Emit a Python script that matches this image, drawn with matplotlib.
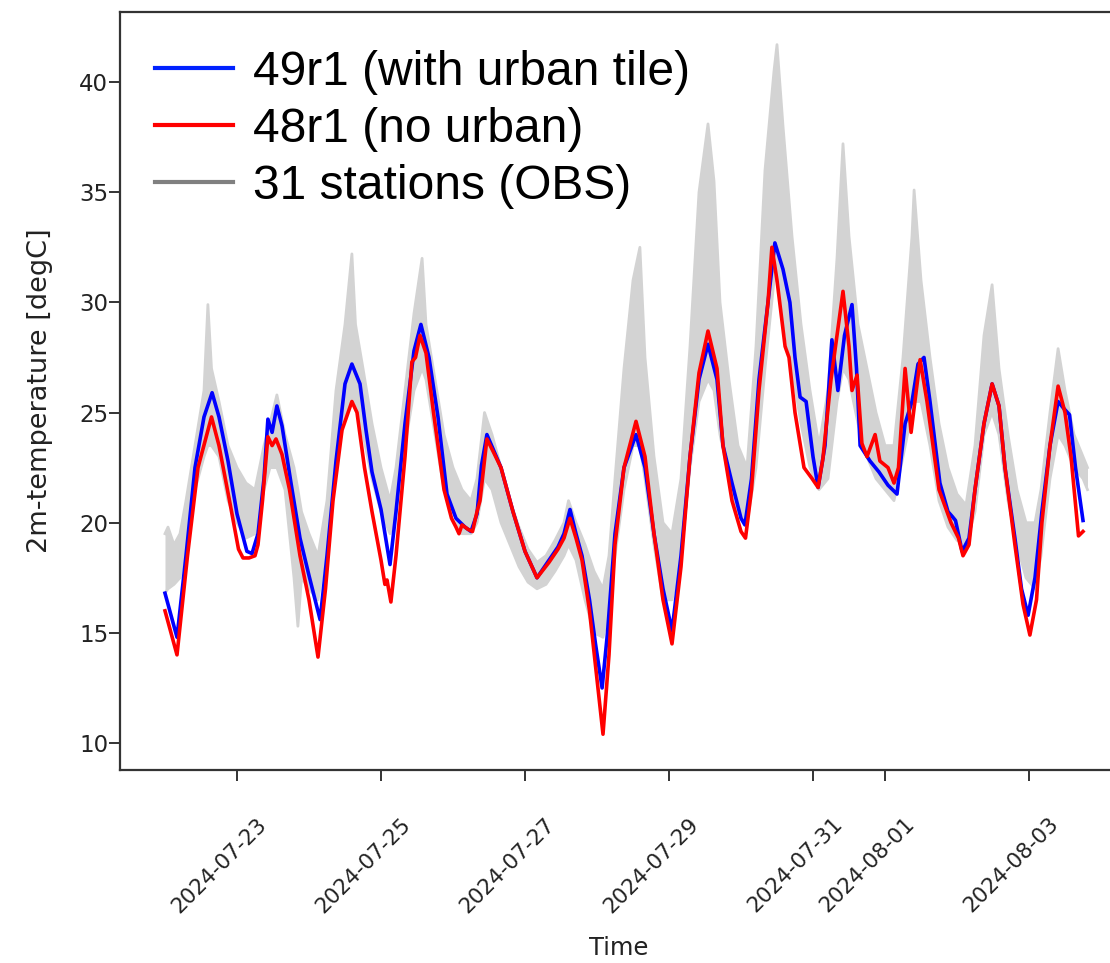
import matplotlib
matplotlib.use("Agg")
import matplotlib.pyplot as plt
import matplotlib.dates as mdates
import matplotlib.transforms as mtransforms
from matplotlib.lines import Line2D
import numpy as np
import pandas as pd

START = pd.Timestamp("2024-07-22 00:00")

# 49r1 (with urban tile): hours since START, 2m temperature
urban_hours = [0, 4, 7, 10, 13, 15.7, 18, 21, 24, 27.3, 29, 31, 33, 34.3, 35.7, 37.3, 39,
               42, 45, 48, 51.7, 54, 57, 60, 62.3, 65, 67, 69, 72, 75, 77, 80, 83, 85.3,
               88, 91, 94, 97, 100, 102, 104, 105.5, 107.3, 109.5, 112, 116, 120, 124,
               128, 131, 133, 135, 137, 139, 141.5, 143.5, 145.7, 147.5, 150, 153, 157,
               160, 163, 166, 169, 172, 175, 178, 181, 184, 186, 189, 192, 193.3, 195.5,
               198, 201, 203.3, 206, 208.3, 210, 211.7, 213.7, 216, 217.7, 220, 222.3,
               224.3, 226.5, 229, 230.5, 231.7, 235, 238, 241, 244, 246.7, 249, 251,
               253, 255, 258.3, 261, 262.3, 263.5, 265.7, 268, 270, 273, 275.7, 278,
               280, 283.3, 285.5, 287.7, 290, 292.3, 295, 297.7, 299.5, 301.5, 303.5, 306]
urban_temp = [16.8, 14.8, 18.5, 22.5, 24.8, 25.9, 24.8, 22.8, 20.4, 18.7, 18.6, 19.5, 22.0,
              24.7, 24.1, 25.3, 24.4, 21.8, 19.3, 17.6, 15.6, 18.5, 22.8, 26.3, 27.2, 26.3,
              24.2, 22.3, 20.6, 18.1, 20.5, 24.5, 27.8, 29.0, 27.5, 24.8, 21.3, 20.2, 19.8,
              19.6, 20.4, 22.6, 24.0, 23.3, 22.5, 20.5, 18.7, 17.5, 18.3, 18.9, 19.5, 20.6,
              19.5, 18.5, 16.5, 14.5, 12.5, 15.0, 19.5, 22.5, 24.0, 22.5, 19.5, 17.0, 15.1,
              18.5, 23.0, 26.5, 28.1, 26.5, 23.5, 21.8, 20.2, 19.9, 22.0, 26.5, 30.0, 32.7,
              31.5, 30.0, 27.5, 25.7, 25.5, 23.0, 21.6, 23.5, 28.3, 26.0, 28.5, 29.9, 27.0,
              23.5, 22.8, 22.3, 21.7, 21.3, 24.5, 25.5, 27.2, 27.5, 25.5, 21.8, 20.5, 20.3,
              20.1, 18.7, 19.3, 21.5, 24.5, 26.3, 25.3, 22.5, 19.3, 17.0, 15.8, 17.5, 20.5,
              23.5, 25.5, 25.2, 24.9, 22.5, 20.1]

# 48r1 (no urban)
nourban_hours = [0, 4, 7.5, 11, 15.5, 18, 21.5, 24.5, 26, 28, 30, 31, 32.5, 34.3, 35.7, 37,
                 39, 41.5, 45, 48, 51, 53.5, 56, 59, 62.3, 64, 66.5, 69, 72, 73.3, 74,
                 75.3, 77, 80, 82.3, 83.5, 85, 87, 89.5, 93, 95.5, 97, 98, 99, 101, 102.5,
                 104, 105, 107.3, 109.5, 112, 116, 120, 124, 128, 131, 133, 135, 137, 139,
                 141.5, 143.5, 146, 148, 150, 153, 157, 160, 163, 166, 169, 172, 175, 178,
                 181, 184, 186, 189, 192, 193.5, 195.5, 198, 201, 202.3, 204, 206.7, 208,
                 210, 213, 215.7, 217.7, 219.3, 222, 226, 228, 229, 230.7, 232.3, 234,
                 236.7, 238.3, 241, 243, 244.5, 246.7, 248.7, 251.7, 254, 258, 262, 264.5,
                 266, 268, 270, 273, 275.7, 278, 280, 283.3, 286, 288.3, 290.5, 292.3, 295,
                 297.7, 300, 302, 304.5, 306]
nourban_temp = [16.0, 14.0, 18.5, 22.5, 24.8, 23.5, 21.0, 18.8, 18.4, 18.4, 18.5, 19.0,
                21.0, 23.9, 23.5, 23.8, 23.1, 21.5, 18.5, 16.5, 13.9, 17.0, 21.0, 24.2, 25.5,
                25.0, 22.5, 20.5, 18.3, 17.2, 17.4, 16.4, 18.5, 23.0, 27.3, 27.5, 28.5, 27.7,
                25.0, 21.5, 20.2, 19.8, 19.5, 19.9, 19.7, 19.6, 20.5, 21.0, 23.8, 23.2, 22.5,
                20.5, 18.7, 17.5, 18.2, 18.8, 19.3, 20.2, 19.3, 18.3, 16.0, 13.5, 10.4, 14.0,
                19.0, 22.5, 24.6, 23.0, 19.5, 16.5, 14.5, 18.0, 23.0, 26.8, 28.7, 27.0, 23.5,
                21.0, 19.6, 19.3, 21.5, 26.0, 30.0, 32.5, 31.0, 28.0, 27.5, 25.0, 22.5, 22.0,
                21.6, 22.9, 26.5, 30.5, 28.0, 26.0, 26.7, 23.6, 23.0, 24.0, 22.8, 22.5, 21.8,
                22.5, 27.0, 24.1, 27.4, 25.5, 21.5, 20.0, 19.3, 18.5, 19.0, 21.5, 24.5, 26.3,
                25.3, 22.5, 19.0, 16.3, 14.9, 16.5, 20.0, 23.5, 26.2, 25.0, 23.0, 19.4, 19.6]

# 31 stations (OBS): envelope of the station curves
obs_hours = [0, 1, 3, 5, 7, 10, 13, 14.3, 15.5, 18, 21, 24, 27, 30, 33, 35, 37.3, 40, 43,
             44.3, 45.5, 48, 51, 54, 57, 60, 62.3, 63.5, 66, 69, 72, 75, 77, 80, 83, 85.7,
             87, 90, 93, 96, 99, 102, 104, 106.5, 109, 112, 115, 118, 121, 124, 127, 130,
             133, 134.5, 137, 140, 143, 146, 148, 150, 153, 156, 158.3, 160, 163, 166,
             169, 172, 175, 178, 181, 183, 185, 188, 191, 194, 197, 200, 203, 204, 206,
             209, 212, 215, 218, 221, 224, 226, 228, 231, 234, 237, 240, 243, 246, 249,
             249.7, 252, 255, 258, 261, 264, 267, 270, 273, 275.7, 278, 281, 284, 287,
             290, 292, 295, 297.7, 300, 303, 306, 307.5]
obs_low = [16.8, 17.0, 17.2, 17.5, 19.0, 21.5, 23.0, 23.5, 23.5, 23.0, 21.0, 20.0, 19.3,
           19.5, 21.5, 22.5, 22.5, 21.5, 17.5, 15.3, 17.5, 17.0, 16.5, 19.0, 22.5, 25.0,
           25.5, 25.5, 24.0, 22.0, 20.5, 19.5, 20.5, 23.5, 26.0, 27.0, 26.5, 24.0, 21.5,
           20.5, 19.5, 19.5, 20.0, 22.0, 21.5, 20.0, 19.0, 18.0, 17.3, 17.0, 17.2, 17.8,
           18.5, 19.0, 18.3, 16.5, 15.0, 14.8, 16.0, 18.5, 21.5, 23.5, 23.5, 22.0, 19.0,
           16.5, 16.5, 18.5, 22.5, 25.5, 26.5, 26.0, 24.0, 22.0, 20.5, 20.0, 22.5, 27.0,
           31.0, 31.0, 29.5, 27.0, 24.5, 22.5, 21.5, 22.0, 25.5, 27.0, 26.5, 24.5, 23.0,
           22.0, 21.5, 21.0, 23.0, 25.0, 25.5, 25.5, 23.5, 21.0, 19.8, 19.2, 19.0, 20.5,
           24.0, 25.0, 24.0, 21.0, 19.0, 17.5, 17.0, 18.5, 22.0, 24.0, 23.5, 22.5, 22.0,
           21.5]
obs_high = [19.5, 19.8, 19.0, 19.5, 21.0, 23.5, 26.0, 29.9, 27.0, 25.5, 23.5, 22.5, 21.8,
            21.5, 23.5, 24.5, 25.8, 24.0, 22.5, 21.5, 20.5, 19.5, 18.5, 21.0, 26.0, 29.0,
            32.2, 29.0, 27.0, 24.5, 22.5, 21.0, 22.5, 26.0, 29.5, 32.0, 29.0, 26.5, 24.0,
            22.5, 21.5, 21.0, 22.0, 25.0, 24.0, 22.5, 21.0, 19.8, 18.8, 18.2, 18.5, 19.2,
            20.0, 21.0, 20.0, 19.0, 17.8, 17.0, 18.5, 22.0, 27.0, 31.0, 32.5, 27.5, 23.0,
            20.0, 19.5, 22.0, 28.0, 35.0, 38.1, 35.5, 30.0, 26.5, 23.5, 22.5, 28.0, 36.0,
            40.5, 41.7, 38.0, 33.0, 29.0, 26.0, 23.5, 26.0, 32.0, 37.2, 33.0, 29.0, 27.0,
            25.0, 23.5, 23.5, 27.5, 33.0, 35.1, 31.0, 27.5, 24.5, 22.5, 21.3, 20.8, 23.5,
            28.5, 30.8, 27.0, 24.0, 21.5, 20.0, 20.0, 21.5, 25.0, 27.9, 26.0, 24.0, 23.0,
            22.5]

x_tick_dates = ["2024-07-23", "2024-07-25", "2024-07-27", "2024-07-29",
                "2024-07-31", "2024-08-01", "2024-08-03"]
y_ticks = [10, 15, 20, 25, 30, 35, 40]
labels = ["49r1 (with urban tile)", "48r1 (no urban)", "31 stations (OBS)"]


def to_time(hours):
    return START + pd.to_timedelta(np.asarray(hours, dtype=float), unit="h")


fig = plt.figure(figsize=(11.10, 9.63), dpi=100)
ax = fig.add_axes([120 / 1110, 193 / 963, 1014 / 1110, 758 / 963])

obs_t = to_time(obs_hours)
ax.fill_between(obs_t, obs_low, obs_high, color="#d3d3d3", lw=0)
ax.plot(obs_t, obs_low, color="#d3d3d3", lw=2)
ax.plot(obs_t, obs_high, color="#d3d3d3", lw=2)

ax.plot(to_time(urban_hours), urban_temp, color="blue", lw=2.6)
ax.plot(to_time(nourban_hours), nourban_temp, color="red", lw=2.6)

ax.set_xlim(START - pd.Timedelta(hours=15), START + pd.Timedelta(hours=323))
ax.set_ylim(8.775, 43.18)
ax.set_xticks(pd.to_datetime(x_tick_dates))
ax.xaxis.set_major_formatter(mdates.DateFormatter("%Y-%m-%d"))
ax.set_yticks(y_ticks)
ax.tick_params(axis="both", length=8, width=1.4, colors="#333333", labelcolor="#222222")
ax.tick_params(axis="y", labelsize=16.5, pad=0.5)
ax.tick_params(axis="x", labelsize=15.5)
shift = mtransforms.ScaledTranslation(-0.18, -0.28, fig.dpi_scale_trans)
for lab in ax.get_xticklabels():
    lab.set_rotation(45)
    lab.set_transform(lab.get_transform() + shift)
for sp in ax.spines.values():
    sp.set_linewidth(1.6)
    sp.set_color("#333333")

ax.set_xlabel("Time", fontsize=17.5, color="#222222")
ax.xaxis.set_label_coords(0.492, -0.219)
ax.set_ylabel("2m-temperature [degC]", fontsize=19.5, color="#222222", labelpad=19)

handles = [Line2D([], [], color="#0022ff", lw=3),
           Line2D([], [], color="#ff0000", lw=3),
           Line2D([], [], color="#808080", lw=3)]
ax.legend(handles, labels, loc="upper left", bbox_to_anchor=(155 / 1110, 1 - 50 / 963),
          bbox_transform=fig.transFigure, frameon=False, borderpad=0, borderaxespad=0,
          handlelength=1.63, handletextpad=0.42, labelspacing=0.25,
          prop={"family": "Liberation Sans", "size": 34.5})

fig.savefig("out.png", dpi=100)
